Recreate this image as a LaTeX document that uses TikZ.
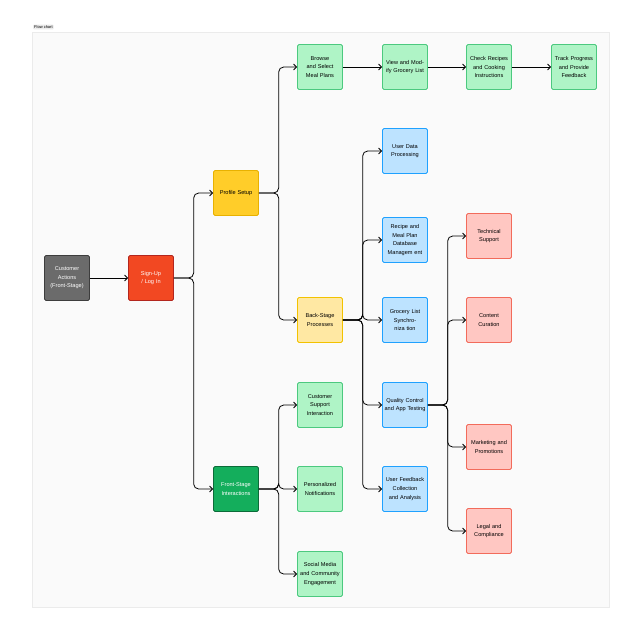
\documentclass[tikz,border=0pt]{standalone}
\usepackage{fontspec}
\setmainfont{Liberation Sans}
\usetikzlibrary{arrows.meta}
\definecolor{grayFill}{HTML}{6B6B6B}\definecolor{grayLine}{HTML}{3D3D3D}
\definecolor{redFill}{HTML}{F24822}\definecolor{redLine}{HTML}{B3261E}
\definecolor{yelFill}{HTML}{FFCD29}\definecolor{yelLine}{HTML}{E8B100}
\definecolor{lyelFill}{HTML}{FFE8A3}\definecolor{lyelLine}{HTML}{F2C200}
\definecolor{dgrnFill}{HTML}{14AE5C}\definecolor{dgrnLine}{HTML}{0B6B38}
\definecolor{grnFill}{HTML}{AFF4C6}\definecolor{grnLine}{HTML}{4CC97F}
\definecolor{bluFill}{HTML}{BDE3FF}\definecolor{bluLine}{HTML}{1FA1FF}
\definecolor{pnkFill}{HTML}{FFC7C2}\definecolor{pnkLine}{HTML}{F26B5B}
\begin{document}
\begin{tikzpicture}[
    x=1pt, y=-1pt,
    box/.style={minimum width=45pt, minimum height=45pt, text width=41pt,
        align=center, rounded corners=1.5pt, line width=0.8pt, inner sep=1pt,
        font=\fontsize{5.6}{8.6}\selectfont},
    grayBox/.style={box, fill=grayFill, draw=grayLine, text=white},
    redBox/.style={box, fill=redFill, draw=redLine, text=white},
    yelBox/.style={box, fill=yelFill, draw=yelLine},
    lyelBox/.style={box, fill=lyelFill, draw=lyelLine},
    dgrnBox/.style={box, fill=dgrnFill, draw=dgrnLine, text=white},
    grnBox/.style={box, fill=grnFill, draw=grnLine},
    bluBox/.style={box, fill=bluFill, draw=bluLine},
    pnkBox/.style={box, fill=pnkFill, draw=pnkLine},
    flow/.style={line width=0.8pt, rounded corners=5pt, -{Straight Barb[length=3pt, width=6pt]}}
        ]
    \useasboundingbox (0,0) rectangle (642,641);
    \fill[white] (0,0) rectangle (642,641);
    \draw[fill=black!2, draw=black!8, line width=0.5pt] (32,32) rectangle (609,607);
    \node[fill=black!8, rounded corners=1pt, inner sep=1pt, font=\fontsize{4}{5}\selectfont, anchor=west] (title) at (33,27) {Flow chart};

    \node[grayBox] (customer) at (67, 278) {Customer Actions (Front-Stage)};
    \node[redBox] (signup) at (151, 278) {Sign-Up / Log In};
    \node[yelBox] (profile) at (236, 193) {Profile Setup};
    \node[dgrnBox] (front) at (236, 489) {Front-Stage Interactions};

    \node[grnBox] (browse) at (320, 67) {Browse and Select Meal Plans};
    \node[grnBox] (view) at (405, 67) {View and Modify Grocery List};
    \node[grnBox] (check) at (489, 67) {Check Recipes and Cooking Instructions};
    \node[grnBox] (track) at (574, 67) {Track Progress and Provide Feedback};
    \node[lyelBox] (back) at (320, 320) {Back-Stage Processes};

    \node[bluBox] (userdata) at (405, 151) {User Data Processing};
    \node[bluBox] (recipe) at (405, 240) {Recipe and Meal Plan Database Managem ent};
    \node[bluBox] (sync) at (405, 320) {Grocery List Synchroniza tion};
    \node[bluBox] (quality) at (405, 405) {Quality Control and App Testing};
    \node[bluBox] (feedback) at (405, 489) {User Feedback Collection and Analysis};

    \node[pnkBox] (tech) at (489, 236) {Technical Support};
    \node[pnkBox] (content) at (489, 320) {Content Curation};
    \node[pnkBox] (marketing) at (489, 447) {Marketing and Promotions};
    \node[pnkBox] (legal) at (489, 531) {Legal and Compliance};

    \node[grnBox] (support) at (320, 405) {Customer Support Interaction};
    \node[grnBox] (notify) at (320, 489) {Personalized Notifications};
    \node[grnBox] (social) at (320, 574) {Social Media and Community Engagement};

    \draw[flow] (customer.east) -- (signup.west);
    \foreach \a/\b in {signup/profile, signup/front, profile/browse, profile/back,
        back/userdata, back/recipe, back/sync, back/quality, back/feedback,
        quality/tech, quality/content, quality/marketing, quality/legal,
        front/support, front/notify, front/social}
        \draw[flow] (\a.east) -- ++(19.75,0) |- (\b.west);
    \draw[flow] (browse.east) -- (view.west);
    \draw[flow] (view.east) -- (check.west);
    \draw[flow] (check.east) -- (track.west);
\end{tikzpicture}
\end{document}
